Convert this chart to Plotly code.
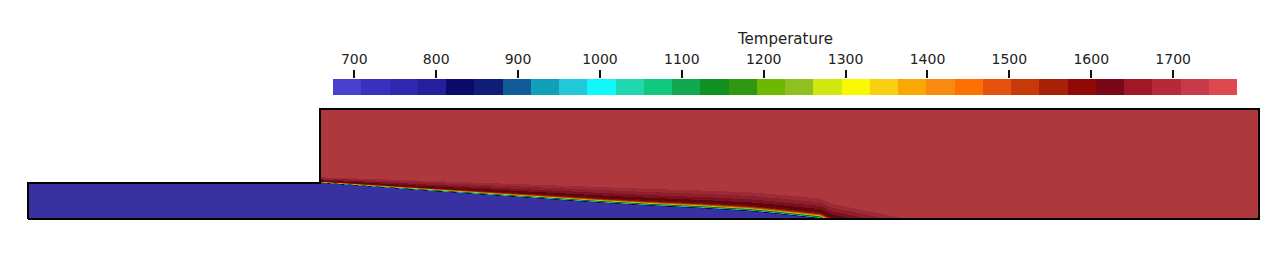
import numpy as np
import plotly.graph_objects as go

# ---------------- data ----------------
# 32 discrete colours of the temperature colour bar (low -> high)
bar_colors = [
    "#4a40d0", "#3a30c0", "#3028b0", "#22209a", "#0c0a6a", "#101e78", "#105a98", "#10a0b8",
    "#20c8d8", "#10f8f8", "#20d8b0", "#10c880", "#10a850", "#109020", "#309810", "#70b800",
    "#90c020", "#d0e810", "#f8f800", "#f8d010", "#f8a800", "#f88a10", "#ff7000", "#e85010",
    "#c83808", "#a82008", "#900808", "#780818", "#a01828", "#b82838", "#c83848", "#e04850",
]
t_min, t_max = 674, 1778
tick_vals = [700, 800, 900, 1000, 1100, 1200, 1300, 1400, 1500, 1600, 1700]

# geometry of the domain (mm)
outline_x = [0, 0, 292, 292, 1231, 1231, 0]
outline_y = [0, 36, 36, 110, 110, 0, 0]
strip_x_end = 292
strip_top = 36
domain_x_end = 1231
domain_top = 110

# cold / hot interface (mm)
iface_x = [292, 372, 472, 572, 622, 672, 722, 752, 772, 792]
iface_y = [36, 30, 23, 16, 13, 10.5, 7.5, 4.5, 2.2, 0]

# temperature profile across the thermal layer above the interface
layer_d = [0, 0.5, 1.0, 1.7, 2.3, 3.0, 4.5, 7, 10, 13]
layer_T = [700, 900, 1100, 1300, 1450, 1560, 1620, 1670, 1720, 1770]
layer_scale_x = [292, 372, 572, 792]
layer_scale = [0.5, 0.8, 1.4, 1.8]
wake_dx = [0, 12, 100]
wake_shift = [0, 3, 13]
T_cold = 690
T_hot = 1770

shade = 0.78  # lighting factor of rendered surface


def hex_to_rgb(h):
    h = h.lstrip("#")
    return tuple(int(h[i:i + 2], 16) for i in (0, 2, 4))


def discrete_scale(colors, factor=1.0):
    n = len(colors)
    sc = []
    for i, c in enumerate(colors):
        r, g, b = hex_to_rgb(c)
        col = f"rgb({int(r * factor)},{int(g * factor)},{int(b * factor)})"
        sc.append([i / n, col])
        sc.append([(i + 1) / n, col])
    return sc


# ---------------- field ----------------
xc = np.arange(0.5, domain_x_end, 1.0)
yc = np.arange(0.5, domain_top, 1.0)
X, Y = np.meshgrid(xc, yc)
y_i = np.interp(X, iface_x, iface_y)
s = np.interp(X, layer_scale_x, layer_scale)
shift = np.interp(X - iface_x[-1], wake_dx, wake_shift)
d = (Y - y_i) / s + shift
T = np.where(d < 0, T_cold, np.interp(d, layer_d, layer_T))
mask = (X < strip_x_end) & (Y > strip_top)
Tl = np.round(T).astype(int).tolist()
for j in range(len(yc)):
    row = Tl[j]
    for i in range(len(xc)):
        if mask[j, i]:
            row[i] = None

fig = go.Figure()

fig.add_trace(go.Heatmap(
    x=xc, y=yc, z=Tl,
    colorscale=discrete_scale(bar_colors, shade),
    zmin=t_min, zmax=t_max, showscale=False, hoverinfo="skip",
    xaxis="x", yaxis="y",
))

fig.add_trace(go.Scatter(
    x=outline_x, y=outline_y, mode="lines",
    line=dict(color="black", width=2), hoverinfo="skip", showlegend=False,
    xaxis="x", yaxis="y",
))

# colour bar drawn as a heatmap
n = len(bar_colors)
step = (t_max - t_min) / n
bin_centers = [t_min + step * (i + 0.5) for i in range(n)]
fig.add_trace(go.Heatmap(
    x=bin_centers, y=[0], z=[bin_centers],
    colorscale=discrete_scale(bar_colors), zmin=t_min, zmax=t_max,
    showscale=False, hoverinfo="skip", xaxis="x2", yaxis="y2",
))

W, H = 1281, 269
fig.update_layout(
    width=W, height=H,
    margin=dict(l=0, r=0, t=0, b=0),
    paper_bgcolor="white", plot_bgcolor="white",
    showlegend=False,
    xaxis=dict(domain=[0, 1], range=[-28, 1253], visible=False, fixedrange=True),
    yaxis=dict(domain=[0, 1], range=[-50, 219], visible=False, fixedrange=True),
    xaxis2=dict(domain=[333 / W, 1237 / W], range=[t_min, t_max], anchor="y2",
                side="top", tickvals=tick_vals, ticks="outside", ticklen=8,
                tickwidth=1.5, tickcolor="#111", showline=False, showgrid=False,
                zeroline=False, ticklabelstandoff=0,
                tickfont=dict(family="DejaVu Sans", size=14, color="#222")),
    yaxis2=dict(domain=[1 - 95 / H, 1 - 79 / H], range=[-0.5, 0.5], anchor="x2",
                visible=False),
    annotations=[dict(text="Temperature", x=785 / W, y=1 - 39 / H,
                      xref="paper", yref="paper", showarrow=False,
                      xanchor="center", yanchor="middle",
                      font=dict(family="DejaVu Sans", size=15, color="#222"))],
)

fig.write_html("out.html")
